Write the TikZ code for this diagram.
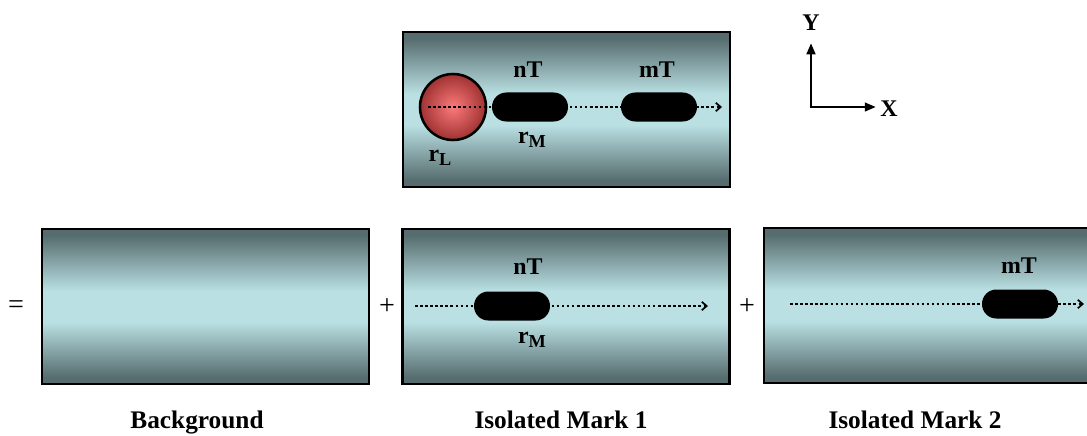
\documentclass[tikz,border=0pt]{standalone}
\usepackage{fontspec}
\setmainfont{Liberation Serif}
\usetikzlibrary{arrows.meta, positioning, calc}

\definecolor{edgeteal}{RGB}{86,108,110}
\definecolor{midteal}{RGB}{186,224,227}
\definecolor{ballin}{RGB}{252,122,122}
\definecolor{ballout}{RGB}{160,50,50}

% band of light in the middle of each panel
\pgfdeclareverticalshading{tealband}{100bp}{%
  color(0bp)=(edgeteal); color(27bp)=(edgeteal); color(45bp)=(midteal);
  color(55bp)=(midteal); color(73bp)=(edgeteal); color(100bp)=(edgeteal)}

\tikzset{
  panel/.style={draw=black, line width=2pt, shading=tealband,
    minimum width=8.175cm, minimum height=3.875cm, inner sep=0pt},
  pill/.style={fill=black, rounded corners=0.36cm,
    minimum width=1.9cm, minimum height=0.725cm, inner sep=0pt},
  dots/.style={line width=2pt, dash pattern=on 1.8pt off 1.8pt},
  track/.style={dots,
    -{Straight Barb[length=3.5pt,width=6pt,line width=1.2pt]}},
  lbl/.style={font=\fontsize{17}{20}\selectfont\bfseries},
  captext/.style={anchor=base, font=\fontsize{18}{21}\selectfont\bfseries},
  sign/.style={font=\fontsize{20}{24}\selectfont}
}
\newcommand{\sublbl}[1]{\raisebox{-0.4ex}{\fontsize{13}{15}\selectfont #1}}

\begin{document}
\begin{tikzpicture}[x=0.025cm, y=-0.025cm]
\useasboundingbox (0,0) rectangle (1087,435);
\clip (0,0) rectangle (1087,435);

% top panel: lesion and both marks
\node[panel] (full) at (566.5,109.5) {};
\coordinate (fullstart) at (428,107);
\coordinate (fullend) at (722,107);
\draw[track] (fullstart) -- (fullend);
\node[
    circle,
    draw=black,
    line width=1.8pt,
    inner color=ballin,
    outer color=ballout,
    minimum size=1.65cm,
    inner sep=0pt
] (lesion) at (453,107) {};
\draw[dots] (fullstart) -- (lesion.east);
\node[pill] (markn) at (530,107) {};
\node[pill] (markm) at (659,107) {};
\node[lbl] (nlbl) at (528,70) {nT};
\node[lbl] (mlbl) at (657,70) {mT};
\node[lbl] (rm) at (532,140) {r\sublbl{M}};
\node[lbl] (rl) at (440,158) {r\sublbl{L}};

% axes
\coordinate (origin) at (811,107);
\node[lbl] (ylbl) at (811,23) {Y};
\node[lbl] (xlbl) at (889,109) {X};
\draw[line width=2pt, -{Triangle[length=8pt,width=6pt]}] (origin) -- (811,43);
\draw[line width=2pt, -{Triangle[length=8pt,width=6pt]}] ([xshift=-1pt]origin) -- (876,107);

% bottom row
\node[sign] (eq) at (16,307) {=};
\node[sign] (plusa) at (387,307) {+};
\node[sign] (plusb) at (747,307) {+};
\node[panel] (bg) at (205.5,306.5) {};
\node[panel] (iso1) at (566,306.5) {};
\node[panel] (iso2) at (927.5,305.5) {};

\coordinate (isostart) at (415,306);
\coordinate (isoend) at (708,306);
\draw[track] (isostart) -- (isoend);
\node[pill] (isomark) at (512,306) {};
\node[lbl] (isonlbl) at (528,267) {nT};
\node[lbl] (isorm) at (532,340) {r\sublbl{M}};

\coordinate (twostart) at (790,304);
\coordinate (twoend) at (1084,304);
\draw[track] (twostart) -- (twoend);
\node[pill] (twomark) at (1020,304) {};
\node[lbl] (twomlbl) at (1019,266) {mT};

% captions
\node[captext] (bgcap) at (197,428) {Background};
\node[captext] (iso1cap) at (561,428) {Isolated Mark 1};
\node[captext] (iso2cap) at (915,428) {Isolated Mark 2};
\end{tikzpicture}
\end{document}
